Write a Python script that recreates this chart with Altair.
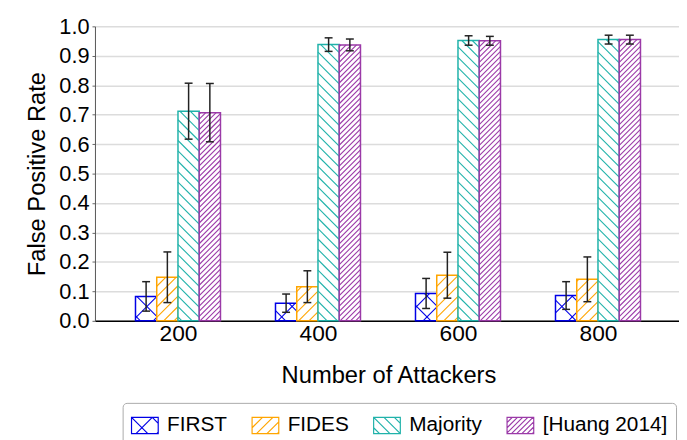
import altair as alt
import numpy as np
import pandas as pd

# ---------------- data ----------------
attackers = ["200", "400", "600", "800"]
methods = ["FIRST", "FIDES", "Majority", "[Huang 2014]"]
fpr_first = [0.083, 0.060, 0.093, 0.086]
fpr_fides = [0.148, 0.116, 0.155, 0.141]
fpr_majority = [0.712, 0.938, 0.952, 0.955]
fpr_huang = [0.707, 0.937, 0.951, 0.955]
err_first = [0.050, 0.031, 0.051, 0.047]
err_fides = [0.086, 0.054, 0.078, 0.076]
err_majority = [0.095, 0.023, 0.016, 0.015]
err_huang = [0.099, 0.020, 0.015, 0.015]

values = [fpr_first, fpr_fides, fpr_majority, fpr_huang]
errors = [err_first, err_fides, err_majority, err_huang]

# ---------------- styles / layout ----------------
colors = ["#0000e6", "#ffa500", "#20b2aa", "#9b3aa8"]
hatches = [[("/", 21.0), ("\\", 21.0)], [("/", 10.5)], [("\\", 10.5)], [("/", 5.25)]]
FONT = "Liberation Sans"
W, H = 591, 298
PX_PER_GROUP = 141.67
XMIN = -0.593
XMAX = XMIN + W / PX_PER_GROUP
BAR_PX = 21.5
CAP_PX = 4.0


def to_px(x, y):
    return (x - XMIN) * PX_PER_GROUP, (1.0 - y) * H


def to_data(px, py):
    return XMIN + px / PX_PER_GROUP, 1.0 - py / H


def hatch(x0, x1, y0, y1, kind, s):
    segs = []
    if kind == "/":
        c = np.floor((x0 + y0) / s) * s
        while c <= x1 + y1 + 1e-9:
            xa, xb = max(x0, c - y1), min(x1, c - y0)
            if xb - xa > 0.4:
                segs.append((xa, c - xa, xb, c - xb))
            c += s
    else:
        c = np.floor((x0 - y1) / s) * s
        while c <= x1 - y0 + 1e-9:
            xa, xb = max(x0, c + y0), min(x1, c + y1)
            if xb - xa > 0.4:
                segs.append((xa, xa - c, xb, xb - c))
            c += s
    return segs


bar_rows, hatch_rows, err_rows = [], [], []
bw = BAR_PX / PX_PER_GROUP
cap = CAP_PX / PX_PER_GROUP
for j, m in enumerate(methods):
    for i, a in enumerate(attackers):
        v, e = values[j][i], errors[j][i]
        x0 = i + (j - 2) * bw
        x1 = x0 + bw
        bar_rows.append({"series": m, "attackers": a, "x": x0, "x2": x1, "y": 0.0, "y2": v})
        px0, py0 = to_px(x0, v)
        px1, py1 = to_px(x1, 0.0)
        for kind, s in hatches[j]:
            for (ax, ay, bx, by) in hatch(px0, px1, py0, py1, kind, s):
                dx0, dy0 = to_data(ax, ay)
                dx1, dy1 = to_data(bx, by)
                hatch_rows.append({"series": m, "x": dx0, "y": dy0, "x2": dx1, "y2": dy1})
        xc = (x0 + x1) / 2
        err_rows.append({"x": xc, "x2": xc, "y": v - e, "y2": v + e})
        err_rows.append({"x": xc - cap, "x2": xc + cap, "y": v - e, "y2": v - e})
        err_rows.append({"x": xc - cap, "x2": xc + cap, "y": v + e, "y2": v + e})

bars = pd.DataFrame(bar_rows)
hatch_df = pd.DataFrame(hatch_rows)
err_df = pd.DataFrame(err_rows)

# legend symbol paths (rectangle + hatch) in the unit square
SW, SH = 27.0, 16.5
half = SW / 2


def sym_path(hs):
    hy = SH / SW
    p = f"M-1,{-hy:.3f}L1,{-hy:.3f}L1,{hy:.3f}L-1,{hy:.3f}Z"
    for kind, s in hs:
        for (ax, ay, bx, by) in hatch(0, SW, 0, SH, kind, s):
            p += f"M{ax/half-1:.3f},{ay/half-hy:.3f}L{bx/half-1:.3f},{by/half-hy:.3f}"
    return p


paths = [sym_path(h) for h in hatches]

label_expr = "[" + ",".join(f"'{a}'" for a in attackers) + "][datum.value]"

x_scale = alt.Scale(domain=[XMIN, XMAX], nice=False, zero=False)
y_scale = alt.Scale(domain=[0, 1], nice=False)

x_axis = alt.Axis(
    values=[0, 1, 2, 3], labelExpr=label_expr, title="Number of Attackers",
    grid=False, ticks=False, labelPadding=2, labelFontSize=23, labelFont=FONT,
    labelColor="black", titleFont=FONT, titleFontSize=24, titleFontWeight="normal",
    titleColor="black", titleX=297, titleY=55, titleBaseline="middle",
    domainColor="black", domainWidth=1.5,
)
y_axis = alt.Axis(
    values=[round(0.1 * k, 1) for k in range(11)], format=".1f", title="False Positive Rate",
    grid=True, gridColor="#dcdcdc", gridWidth=1.5, tickSize=3, tickColor="#666",
    labelPadding=3, labelFontSize=22, labelFont=FONT, labelColor="black",
    titleFont=FONT, titleFontSize=24, titleFontWeight="normal", titleColor="black",
    titleX=-58, titleY=H / 2, titleAngle=270, titleAlign="center", titleBaseline="middle",
    domainColor="#555", domainWidth=1,
)

X = alt.X("x:Q", scale=x_scale, axis=x_axis)
Y = alt.Y("y:Q", scale=y_scale, axis=y_axis)

layers = []
for j, m in enumerate(methods):
    layers.append(
        alt.Chart(bars).transform_filter(alt.datum.series == m)
        .mark_rect(fill="white", stroke=colors[j], strokeWidth=1.5)
        .encode(x=X, x2="x2:Q", y=Y, y2="y2:Q")
    )
    layers.append(
        alt.Chart(hatch_df).transform_filter(alt.datum.series == m)
        .mark_rule(stroke=colors[j], strokeWidth=1.1)
        .encode(x=X, x2="x2:Q", y=Y, y2="y2:Q")
    )

err_layer = alt.Chart(err_df).mark_rule(strokeWidth=1.5, color="#222").encode(
    x=X, x2="x2:Q", y=Y, y2="y2:Q",
)
layers.append(err_layer)

legend = alt.Legend(
    title=None, orient="none", legendX=28, legendY=381, direction="horizontal",
    labelFont=FONT, labelFontSize=21, labelColor="black", labelOffset=8,
    columnPadding=22, padding=8, strokeColor="#aaaaaa", cornerRadius=4,
    fillColor="white", symbolSize=729, symbolStrokeWidth=1.2,
)
# invisible points that only carry the legend (colour + hatched symbol)
legend_layer = alt.Chart(bars).mark_point(filled=False, opacity=0).encode(
    x=X, y=Y,
    color=alt.Color("series:N", scale=alt.Scale(domain=methods, range=colors), legend=legend),
    shape=alt.Shape("series:N", scale=alt.Scale(domain=methods, range=paths), legend=legend),
)
layers.append(legend_layer)

chart = (
    alt.layer(*layers)
    .properties(
        width=W, height=H,
        autosize=alt.AutoSizeParams(type="none"),
        padding={"left": 88, "top": 16, "right": 0, "bottom": 118},
    )
    .configure_view(stroke=None)
)

chart.save("out.html", embed_options={"renderer": "svg", "actions": False})
